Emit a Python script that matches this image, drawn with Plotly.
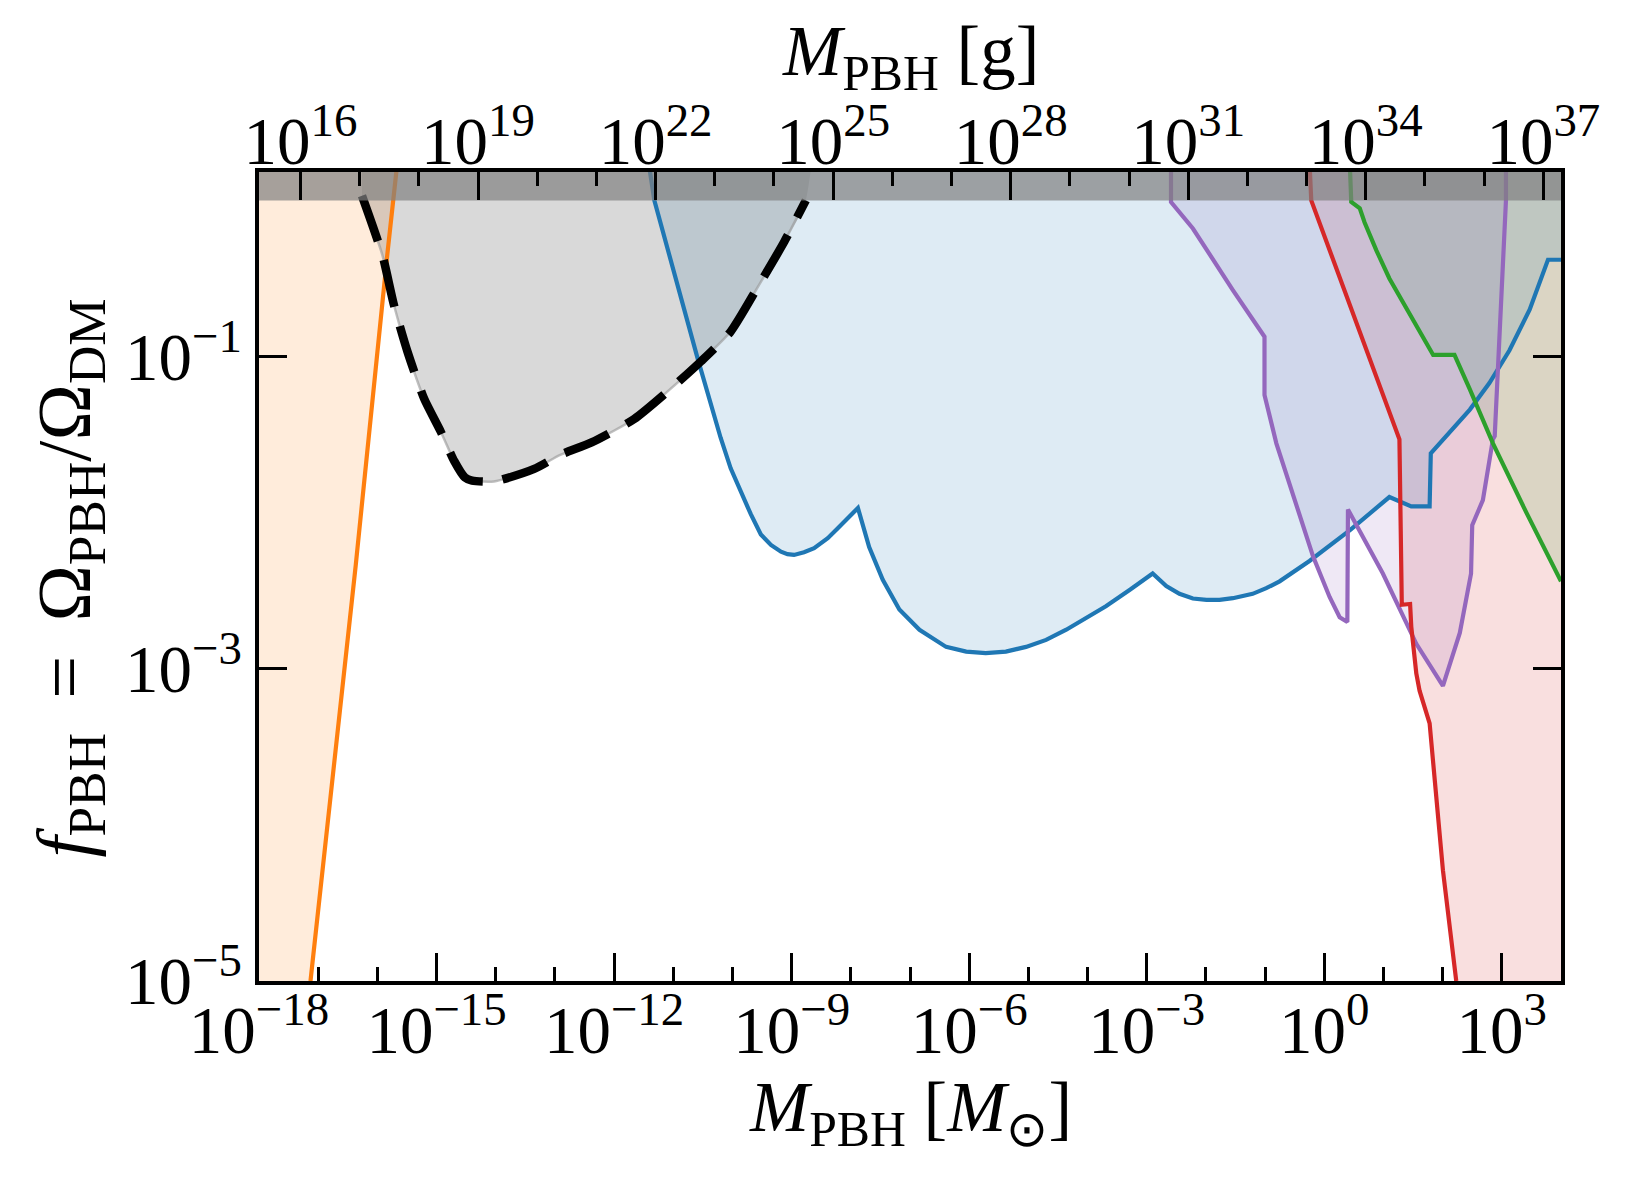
import numpy as np
import plotly.graph_objects as go

# ---------------- data (log10 values) ----------------
MSUN_IN_G = 1.989e33

X_LOG_RANGE = [-18.0, 4.0]      # log10(M / Msun)
Y_LOG_RANGE = [-5.0, 0.182]     # log10(f_PBH)

# orange (left) constraint
orange_logM = [-17.13, -16.53, -16.365, -15.83, -15.68, -15.66]
orange_logf = [-5.00, -2.92, -2.335, -0.34, 0.18, 0.25]

# black dashed constraint (grey filled)
dashed_logM = [-16.26, -15.915, -15.72, -15.49, -15.21, -14.93, -14.70, -14.52, -14.40,
               -14.03, -13.35, -12.91, -12.38, -11.66, -11.10, -10.53, -10.03, -9.58,
               -9.125, -8.76]
dashed_logf = [0.03, -0.35, -0.67, -0.97, -1.27, -1.48, -1.67, -1.775, -1.795,
               -1.80, -1.72, -1.63, -1.55, -1.40, -1.225, -1.03, -0.84, -0.56,
               -0.265, 0.0]

# blue constraint
blue_logM = [-11.42, -11.32, -10.59, -10.48, -10.36, -10.20, -10.03, -9.86, -9.69, -9.52,
             -9.35, -9.18, -9.07, -8.96, -8.79, -8.62, -8.39, -8.22, -8.05, -7.88,
             -7.69, -7.46, -7.18, -6.84, -6.39, -6.05, -5.72, -5.38, -5.04, -4.70,
             -4.36, -4.025, -3.69, -3.29, -2.90, -2.67, -2.447, -2.22, -1.99, -1.77,
             -1.545, -1.21, -0.98, -0.755, -0.25, 0.44, 1.10, 1.47, 1.78, 1.80,
             2.01, 2.12, 2.46, 2.79, 3.13, 3.47, 3.78, 4.0]
blue_logf = [0.25, 0.0, -1.01, -1.16, -1.31, -1.52, -1.716, -1.87, -2.01, -2.14,
             -2.207, -2.25, -2.266, -2.271, -2.254, -2.228, -2.164, -2.10, -2.036, -1.97,
             -2.22, -2.43, -2.62, -2.75, -2.86, -2.89, -2.90, -2.89, -2.86, -2.815,
             -2.75, -2.676, -2.60, -2.495, -2.39, -2.47, -2.52, -2.55, -2.559, -2.559,
             -2.548, -2.52, -2.484, -2.44, -2.31, -2.11, -1.90, -1.96, -1.96, -1.62,
             -1.53, -1.49, -1.34, -1.17, -0.96, -0.70, -0.38, -0.38]

# purple constraint
purple_logM = [-2.59, -2.59, -2.22, -1.545, -1.01, -1.01, -0.81, -0.475, -0.19, 0.09,
               0.26, 0.39, 0.40, 0.99, 1.555, 2.005, 2.29, 2.48, 2.50, 2.68,
               2.85, 2.88, 2.94, 3.02, 3.07, 3.07]
purple_logf = [0.25, -0.01, -0.18, -0.574, -0.873, -1.246, -1.556, -1.94, -2.28, -2.54,
               -2.67, -2.70, -1.98, -2.39, -2.84, -3.11, -2.77, -2.39, -2.08, -1.92,
               -1.53, -1.51, -1.0, -0.32, 0.0, 0.25]

# red constraint
red_logM = [-0.25, -0.22, 1.27, 1.31, 1.45, 1.47, 1.555, 1.61, 1.78, 2.005, 2.23]
red_logf = [0.25, 0.0, -1.53, -2.59, -2.585, -2.73, -3.03, -3.14, -3.35, -4.29, -5.0]

# green constraint
green_logM = [0.43, 0.456, 0.60, 0.68, 0.88, 1.10, 1.84, 2.20, 2.46, 2.85, 3.415, 4.0]
green_logf = [0.25, -0.01, -0.05, -0.14, -0.32, -0.50, -0.99, -0.99, -1.21, -1.556, -2.00, -2.44]

# ticks
x_major_exp = [-18, -15, -12, -9, -6, -3, 0, 3]
x_tick_text = ["10<sup>−18</sup>", "10<sup>−15</sup>", "10<sup>−12</sup>", "10<sup>−9</sup>",
               "10<sup>−6</sup>", "10<sup>−3</sup>", "10<sup>0</sup>", "10<sup>3</sup>"]
x_minor_exp = [-17, -16, -14, -13, -11, -10, -8, -7, -5, -4, -2, -1, 1, 2, 4]

g_major_exp = [16, 19, 22, 25, 28, 31, 34, 37]
g_tick_text = ["10<sup>16</sup>", "10<sup>19</sup>", "10<sup>22</sup>", "10<sup>25</sup>",
               "10<sup>28</sup>", "10<sup>31</sup>", "10<sup>34</sup>", "10<sup>37</sup>"]
g_minor_exp = [17, 18, 20, 21, 23, 24, 26, 27, 29, 30, 32, 33, 35, 36]

y_major_exp = [-5, -3, -1]
y_tick_text = ["10<sup>−5</sup>", "10<sup>−3</sup>", "10<sup>−1</sup>"]

# ---------------- helpers ----------------
def p10(v):
    return [float(x) for x in np.power(10.0, np.asarray(v, dtype=float))]

X_LO = 10.0 ** (X_LOG_RANGE[0] - 1)
X_HI = 10.0 ** (X_LOG_RANGE[1] + 1)
Y_LO = 10.0 ** (Y_LOG_RANGE[0] - 1)
Y_HI = 10.0 ** (Y_LOG_RANGE[1] + 1)

fig = go.Figure()

def add_fill(xs, ys, color, shape="linear"):
    fig.add_trace(go.Scatter(x=xs, y=ys, mode="lines", fill="toself", fillcolor=color,
                             line=dict(width=0, color="rgba(0,0,0,0)", shape=shape, smoothing=0.6),
                             hoverinfo="skip", showlegend=False))

def add_line(xs, ys, color, width=4.2, dash=None, shape="linear"):
    fig.add_trace(go.Scatter(x=xs, y=ys, mode="lines",
                             line=dict(color=color, width=width, dash=dash, shape=shape, smoothing=0.6),
                             hoverinfo="skip", showlegend=False))

C_BLUE, C_ORANGE, C_GREEN, C_RED, C_PURPLE = "#1f77b4", "#ff7f0e", "#2ca02c", "#d62728", "#9467bd"
A = 0.15

def rgba(hexc, a):
    h = hexc.lstrip("#")
    return "rgba(%d,%d,%d,%.3f)" % (int(h[0:2], 16), int(h[2:4], 16), int(h[4:6], 16), a)

oM, of = p10(orange_logM), p10(orange_logf)
dM, df = p10(dashed_logM), p10(dashed_logf)
bM, bf = p10(blue_logM), p10(blue_logf)
pM, pf = p10(purple_logM), p10(purple_logf)
rM, rf = p10(red_logM), p10(red_logf)
gM, gf = p10(green_logM), p10(green_logf)

# fills
add_fill(oM + [oM[-1], X_LO, X_LO, oM[0]], of + [Y_HI, Y_HI, Y_LO, Y_LO], rgba(C_ORANGE, A))
add_fill(rM + [rM[-1], X_HI, X_HI, rM[0]], rf + [Y_LO, Y_LO, Y_HI, Y_HI], rgba(C_RED, A))
add_fill(gM + [X_HI, X_HI, gM[0]], gf + [gf[-1], Y_HI, Y_HI], rgba(C_GREEN, A))
add_fill(pM + [pM[-1], pM[0]], pf + [Y_HI, Y_HI], rgba(C_PURPLE, A))
add_fill(bM + [X_HI, X_HI, bM[0]], bf + [bf[-1], Y_HI, Y_HI], rgba(C_BLUE, A))
add_fill(dM + [dM[-1], dM[0]], df + [Y_HI, Y_HI], "rgba(0,0,0,0.15)", shape="spline")

# lines
add_line(oM, of, C_ORANGE)
add_line(bM, bf, C_BLUE)
add_line(pM, pf, C_PURPLE)
add_line(rM, rf, C_RED)
add_line(gM, gf, C_GREEN)
add_line(dM, df, "rgba(150,150,150,0.6)", width=2.5, shape="spline")
add_line(dM, df, "black", width=8.5, dash="48px,20px", shape="spline")

# f > 1 band
add_fill([X_LO, X_HI, X_HI, X_LO], [1.0, 1.0, Y_HI, Y_HI], "rgba(128,128,128,0.7)")

# dummy trace for the gram axis
fig.add_trace(go.Scatter(x=[1e20], y=[1e-3], xaxis="x2", mode="markers",
                         marker=dict(opacity=0), hoverinfo="skip", showlegend=False))

FONT = "Liberation Serif"
TICK_SIZE = 67
LW = 3.5

common = dict(type="log", showgrid=False, zeroline=False, showline=True, linecolor="black",
              linewidth=LW, ticks="inside", ticklen=28, tickwidth=3, tickcolor="black",
              tickfont=dict(family=FONT, size=TICK_SIZE, color="black"))

G_OFF = float(np.log10(MSUN_IN_G))

fig.update_layout(
    width=1630, height=1183,
    margin=dict(l=259, r=69, t=172, b=202),
    paper_bgcolor="white", plot_bgcolor="white",
    showlegend=False,
    xaxis=dict(**common, range=X_LOG_RANGE, autorange=False, mirror=False,
               ticklabelstandoff=-12,
               tickmode="array", tickvals=p10(x_major_exp), ticktext=x_tick_text,
               minor=dict(tickmode="array", tickvals=p10(x_minor_exp), ticks="inside",
                          ticklen=14, tickwidth=3, tickcolor="black")),
    xaxis2=dict(**common, overlaying="x", side="top", anchor="y",
                range=[X_LOG_RANGE[0] + G_OFF, X_LOG_RANGE[1] + G_OFF],
                autorange=False, ticklabelstandoff=-23,
                tickmode="array", tickvals=p10(g_major_exp), ticktext=g_tick_text,
                minor=dict(tickmode="array", tickvals=p10(g_minor_exp), ticks="inside",
                           ticklen=14, tickwidth=3, tickcolor="black")),
    yaxis=dict(**common, range=Y_LOG_RANGE, autorange=False, mirror="ticks",
               tickmode="array", tickvals=p10(y_major_exp), ticktext=y_tick_text),
)

TITLE_FONT = dict(family=FONT, size=71, color="black")
fig.add_annotation(text="<i>M</i><sub>PBH</sub> [<i>M</i><sub>⊙</sub>]", xref="paper", yref="paper",
                   x=0.5, y=0, xanchor="center", yanchor="middle", yshift=-131,
                   showarrow=False, font=TITLE_FONT)
fig.add_annotation(text="<i>M</i><sub>PBH</sub> [g]", xref="paper", yref="paper",
                   x=0.5, y=1, xanchor="center", yanchor="middle", yshift=116,
                   showarrow=False, font=TITLE_FONT)
fig.add_annotation(text="<i>f</i><sub>PBH</sub>\u2009 = \u2009Ω<sub>PBH</sub>/Ω<sub>DM</sub>",
                   xref="paper", yref="paper",
                   x=0, y=0.5, xanchor="center", yanchor="middle", xshift=-190, yshift=-2,
                   textangle=-90, showarrow=False, font=dict(family=FONT, size=76, color="black"))

fig.write_html("out.html")
